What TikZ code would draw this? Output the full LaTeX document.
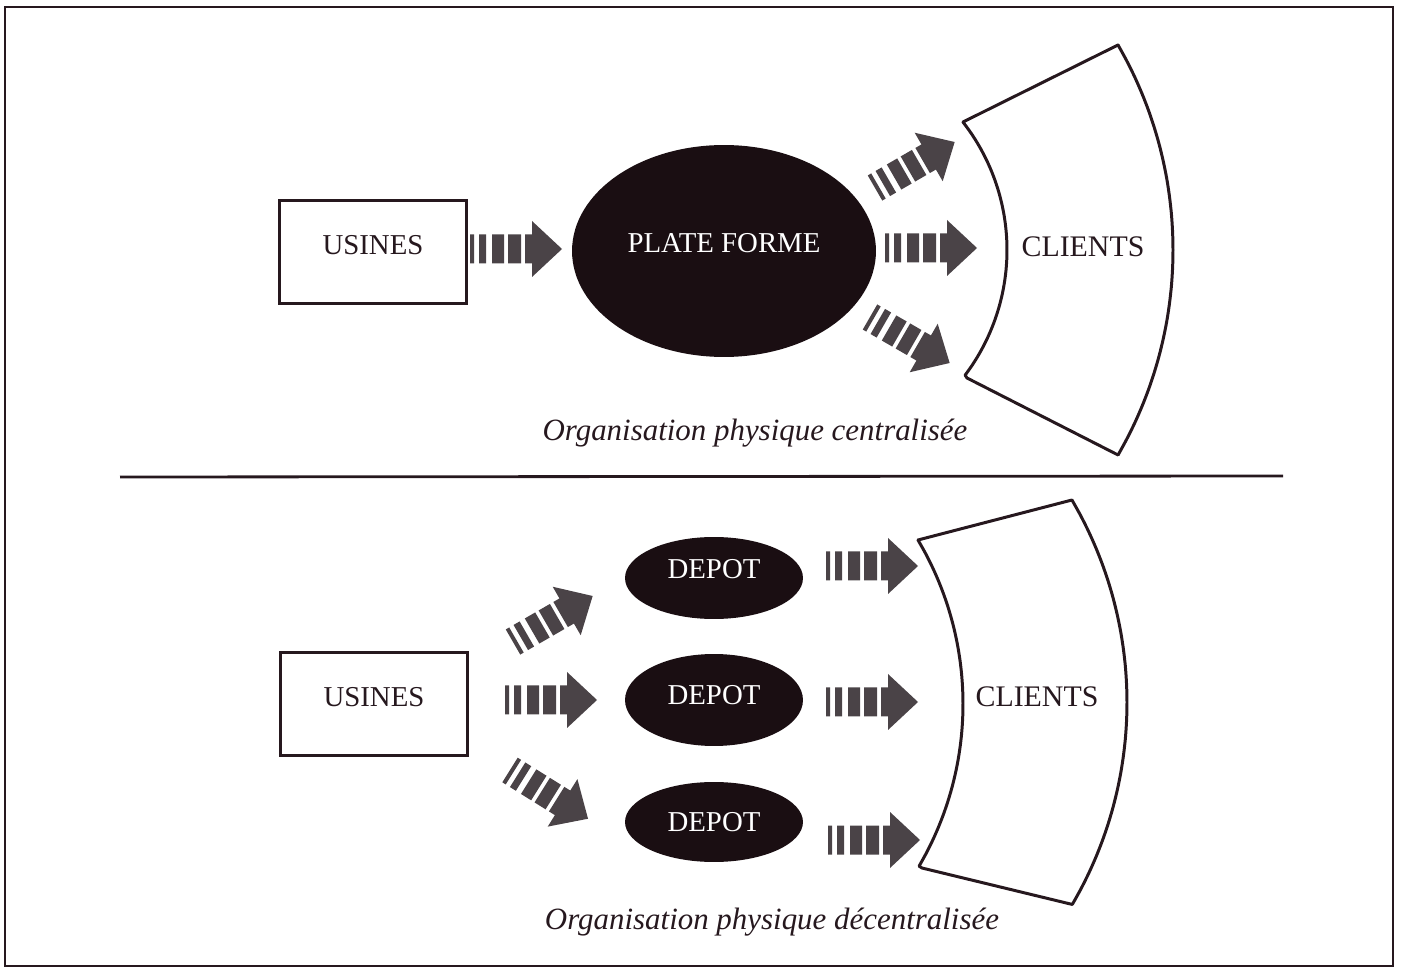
\documentclass[tikz,border=0pt]{standalone}
\usepackage{fontspec}
\setmainfont{Liberation Serif}
\definecolor{ink}{RGB}{38,24,30}
\definecolor{blob}{RGB}{26,14,18}
\definecolor{arrowgray}{RGB}{74,67,71}
\tikzset{
  box/.style={draw=ink, line width=1.7pt, minimum width=3.76cm, minimum height=2.06cm, inner sep=0pt, text depth=8pt, font=\fontsize{16.4}{19}\selectfont, text=ink},
  blobnode/.style={ellipse, fill=blob, text=white, inner sep=0pt, font=\fontsize{16.4}{19}\selectfont},
  shapeline/.style={draw=ink, line width=1.7pt, line join=round},
  caption/.style={font=\fontsize{17.6}{20}\selectfont\itshape, text=ink},
  flowarrow/.pic={
    \fill[arrowgray] (0,-14.5) rectangle (4,14.5) (9,-14.5) rectangle (16,14.5)
      (22,-14.5) rectangle (34,14.5) (38,-14.5) rectangle (51,14.5);
    \fill[arrowgray] (55,-14.5) -- (62,-14.5) -- (62,-28) -- (92,0) -- (62,28) -- (62,14.5) -- (55,14.5) -- cycle;
  }
}
\usetikzlibrary{shapes.geometric}
\begin{document}
\begin{tikzpicture}[x=0.02cm, y=-0.02cm]
  \useasboundingbox (0,0) rectangle (1401,969);
  \draw[ink, line width=1.2pt] (5,7) rectangle (1393,966);
  \draw[ink, line width=1.6pt] (120,477) -- (1283,476);

  % centralisee
  \node[box] (usines1) at (373,252) {USINES};
  \node[blobnode, minimum width=6.08cm, minimum height=4.24cm, text depth=9pt] (plate) at (724,251) {PLATE FORME};
  \draw[shapeline] (963,122) -- (1118,45)
    -- plot[domain=-30:30, variable=\t, smooth] ({763+410*cos(\t)},{250+410*sin(\t)})
    -- (967,378)
    -- plot[domain=37:-38, variable=\t, smooth] ({799+208*cos(\t)},{250+208*sin(\t)}) -- cycle;
  \node[font=\fontsize{17}{20}\selectfont, text=ink] (clients1) at (1083,247) {CLIENTS};
  \pic at (470,249) {flowarrow};
  \pic[rotate=30] at (875,188) {flowarrow};
  \pic at (885,248) {flowarrow};
  \pic[rotate=-30] at (870,317) {flowarrow};
  \node[caption] (caption1) at (755,433) {Organisation physique centralisée};

  % decentralisee
  \node[box] (usines2) at (374,704) {USINES};
  \node[blobnode, minimum width=3.56cm, minimum height=1.64cm, text depth=10pt] (depot1) at (714,578) {DEPOT};
  \node[blobnode, minimum width=3.56cm, minimum height=1.84cm, text depth=6pt] (depot2) at (714,700) {DEPOT};
  \node[blobnode, minimum width=3.56cm, minimum height=1.60cm] (depot3) at (714,822) {DEPOT};
  \draw[shapeline] (918,540) -- (1072,500)
    -- plot[domain=-30.4:30.3, variable=\t, smooth] ({726.7+400.3*cos(\t)},{702.5+400.3*sin(\t)})
    -- (922,868)
    -- plot[domain=30.3:-30.7, variable=\t, smooth] ({641.6+321.4*cos(\t)},{704+321.4*sin(\t)}) -- cycle;
  \node[font=\fontsize{17}{20}\selectfont, text=ink] (clients2) at (1037,697) {CLIENTS};
  \pic[rotate=30] at (513,642) {flowarrow};
  \pic at (505,700) {flowarrow};
  \pic[rotate=-32] at (510,770) {flowarrow};
  \pic at (826,566) {flowarrow};
  \pic at (826,702) {flowarrow};
  \pic at (828,840) {flowarrow};
  \node[caption] (caption2) at (772,922) {Organisation physique décentralisée};
\end{tikzpicture}
\end{document}
